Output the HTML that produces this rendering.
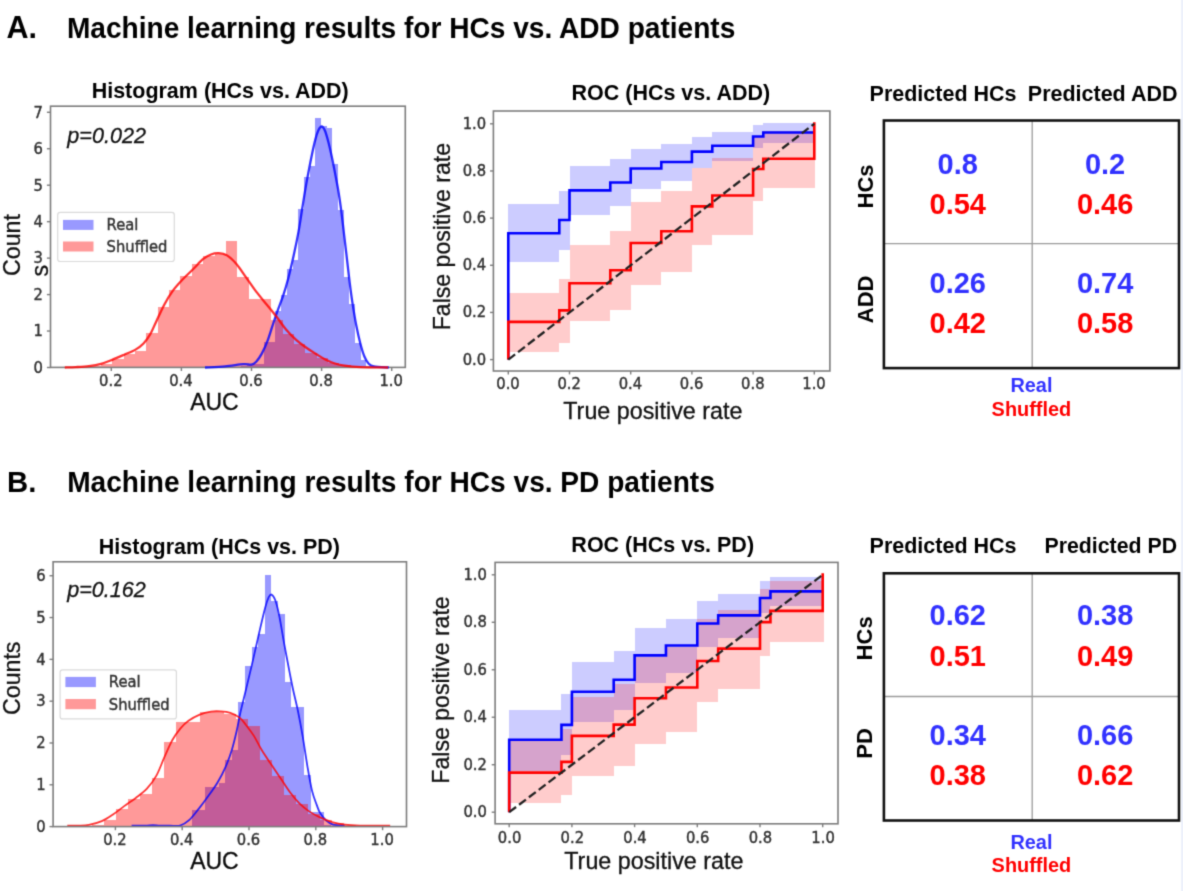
<!DOCTYPE html>
<html lang="en"><head><meta charset="utf-8"><title>Machine learning results</title>
<style>
html,body{margin:0;padding:0;background:#fff;}
body{width:1183px;height:891px;overflow:hidden;}

</style></head><body>
<svg width="1183" height="891" viewBox="0 0 1183 891" style="display:block">
<defs><filter id="soft" x="0" y="0" width="1183" height="891" filterUnits="userSpaceOnUse" color-interpolation-filters="sRGB"><feConvolveMatrix order="3" kernelMatrix="0.02426 0.10723 0.02426 0.10723 0.47405 0.10723 0.02426 0.10723 0.02426" divisor="1" edgeMode="duplicate" preserveAlpha="false"/></filter></defs>
<g filter="url(#soft)">
<rect x="0" y="0" width="1183" height="891" fill="#fff"/>
<g>
<clipPath id="c611"><rect x="50.5" y="106.2" width="354.8" height="261.2"/></clipPath>
<g clip-path="url(#c611)">
<g fill="#0000ff" fill-opacity="0.4" shape-rendering="crispEdges">
<rect x="241.38" y="365.68" width="5.68" height="1.82"/>
<rect x="247.06" y="364.95" width="5.68" height="2.55"/>
<rect x="252.74" y="363.85" width="5.68" height="3.65"/>
<rect x="258.42" y="364.22" width="5.68" height="3.28"/>
<rect x="264.1" y="341.61" width="5.68" height="25.89"/>
<rect x="269.78" y="341.61" width="5.68" height="25.89"/>
<rect x="275.46" y="311.35" width="5.68" height="56.15"/>
<rect x="281.14" y="294.58" width="5.68" height="72.92"/>
<rect x="286.82" y="269.06" width="5.68" height="98.44"/>
<rect x="292.5" y="259.94" width="5.68" height="107.56"/>
<rect x="298.18" y="208.9" width="5.68" height="158.6"/>
<rect x="303.86" y="177.18" width="5.68" height="190.32"/>
<rect x="309.54" y="165.88" width="5.68" height="201.62"/>
<rect x="315.22" y="118.11" width="5.68" height="249.39"/>
<rect x="320.9" y="125.77" width="5.68" height="241.73"/>
<rect x="326.58" y="127.96" width="5.68" height="239.54"/>
<rect x="332.26" y="164.42" width="5.68" height="203.08"/>
<rect x="337.94" y="210.36" width="5.68" height="157.14"/>
<rect x="343.62" y="277.08" width="5.68" height="90.42"/>
<rect x="349.3" y="304.42" width="5.68" height="63.08"/>
<rect x="354.98" y="343.07" width="5.68" height="24.43"/>
<rect x="360.66" y="359.84" width="5.68" height="7.66"/>
<rect x="366.34" y="366.04" width="5.68" height="1.46"/>
</g>
<g fill="#ff0000" fill-opacity="0.4" shape-rendering="crispEdges">
<rect x="89.65" y="366.41" width="11.35" height="1.09"/>
<rect x="101" y="364.29" width="11.35" height="3.21"/>
<rect x="112.35" y="358.75" width="11.35" height="8.75"/>
<rect x="123.7" y="354.19" width="11.35" height="13.31"/>
<rect x="135.05" y="351.46" width="11.35" height="16.04"/>
<rect x="146.4" y="332.97" width="11.35" height="34.53"/>
<rect x="157.75" y="307.34" width="11.35" height="60.16"/>
<rect x="169.1" y="289.84" width="11.35" height="77.66"/>
<rect x="180.45" y="275.62" width="11.35" height="91.88"/>
<rect x="191.8" y="263.95" width="11.35" height="103.55"/>
<rect x="203.15" y="255.93" width="11.35" height="111.57"/>
<rect x="214.5" y="254.47" width="11.35" height="113.03"/>
<rect x="225.85" y="240.98" width="11.35" height="126.52"/>
<rect x="237.2" y="277.08" width="11.35" height="90.42"/>
<rect x="248.55" y="299.32" width="11.35" height="68.18"/>
<rect x="259.9" y="299.32" width="11.35" height="68.18"/>
<rect x="271.25" y="320.1" width="11.35" height="47.4"/>
<rect x="282.6" y="333.59" width="11.35" height="33.91"/>
<rect x="293.95" y="343.8" width="11.35" height="23.7"/>
<rect x="305.3" y="352.55" width="11.35" height="14.95"/>
<rect x="316.65" y="358.02" width="11.35" height="9.48"/>
<rect x="328" y="363.12" width="11.35" height="4.38"/>
<rect x="339.35" y="365.31" width="11.35" height="2.19"/>
<rect x="350.7" y="366.41" width="11.35" height="1.09"/>
<rect x="362.05" y="366.95" width="11.35" height="0.55"/>
</g>
</g>
<rect x="50.5" y="106.2" width="354.8" height="261.2" fill="none" stroke="#7d7d7d" stroke-width="1.6"/>
<path d="M205,367.5C208.33,367.32 218.6,366.95 225,366.41C231.4,365.86 239,364.52 243.4,364.22C247.8,363.91 249.27,365.01 251.4,364.58C253.53,364.16 254.47,363.49 256.2,361.67C257.93,359.84 259.92,357.11 261.8,353.65C263.68,350.18 265.75,345.44 267.5,340.88C269.25,336.33 270.7,331.1 272.3,326.3C273.9,321.5 275.23,317.37 277.1,312.08C278.97,306.79 281.63,300.23 283.5,294.58C285.37,288.93 286.63,284.55 288.3,278.17C289.97,271.79 291.8,264.01 293.5,256.3C295.2,248.58 297.15,239.16 298.5,231.87C299.85,224.58 300.5,219.41 301.6,212.54C302.7,205.68 304.08,196.75 305.1,190.67C306.12,184.59 306.6,181.92 307.7,176.09C308.8,170.25 310.43,161.74 311.7,155.67C312.97,149.59 314.2,143.82 315.3,139.62C316.4,135.43 317.25,132.7 318.3,130.51C319.35,128.32 320.5,126.5 321.6,126.5C322.7,126.5 323.75,127.84 324.9,130.51C326.05,133.18 327.32,137.98 328.5,142.54C329.68,147.1 330.82,152.26 332,157.85C333.18,163.45 334.5,170.31 335.6,176.09C336.7,181.86 337.67,186.78 338.6,192.49C339.53,198.2 340.27,203.19 341.2,210.36C342.13,217.53 343.2,227.07 344.2,235.51C345.2,243.96 346.3,253.32 347.2,261.04C348.1,268.75 348.75,275.01 349.6,281.82C350.45,288.62 351.18,294.58 352.3,301.87C353.42,309.16 354.95,318.58 356.3,325.57C357.65,332.56 359.05,338.64 360.4,343.8C361.75,348.97 363.05,353.28 364.4,356.56C365.75,359.84 366.92,361.85 368.5,363.49C370.08,365.13 370.52,365.74 373.9,366.41C377.28,367.07 386.32,367.32 388.8,367.5" fill="none" stroke="#0000ff" stroke-opacity="0.8" stroke-width="2.3" stroke-linejoin="round" stroke-linecap="butt"/>
<path d="M64.8,367.5C66.67,367.43 71.98,367.31 76,367.06C80.02,366.82 84.73,366.58 88.9,366.04C93.07,365.51 97.12,364.89 101,363.85C104.88,362.82 108.33,361.36 112.2,359.84C116.07,358.32 120.32,356.44 124.2,354.74C128.08,353.04 132.28,351.52 135.5,349.63C138.72,347.75 141.08,345.93 143.5,343.44C145.92,340.94 147.85,338.39 150,334.69C152.15,330.98 154,326.24 156.4,321.2C158.8,316.15 161.73,309.41 164.4,304.42C167.07,299.44 169.45,295.37 172.4,291.3C175.35,287.23 178.62,283.7 182.1,280C185.58,276.29 189.83,272.52 193.3,269.06C196.77,265.59 199.95,261.64 202.9,259.21C205.85,256.78 208.35,255.48 211,254.47C213.65,253.47 216.13,253.05 218.8,253.2C221.47,253.35 224.13,253.65 227,255.39C229.87,257.12 232.73,259.79 236,263.59C239.27,267.39 243.23,273.49 246.6,278.17C249.97,282.85 252.72,287.11 256.2,291.66C259.68,296.22 264.02,301.2 267.5,305.52C270.98,309.83 273.9,313.42 277.1,317.55C280.3,321.68 283.48,326.54 286.7,330.31C289.92,334.08 293.18,337.3 296.4,340.15C299.62,343.01 302.8,345.2 306,347.45C309.2,349.7 312.38,351.64 315.6,353.65C318.82,355.65 322.08,357.84 325.3,359.48C328.52,361.12 331.68,362.46 334.9,363.49C338.12,364.52 340.32,365.07 344.6,365.68C348.88,366.28 353.37,366.83 360.6,367.14C367.83,367.44 383.43,367.44 388,367.5" fill="none" stroke="#ff0000" stroke-opacity="0.8" stroke-width="2.3" stroke-linejoin="round" stroke-linecap="butt"/>
<g stroke="#7d7d7d" stroke-width="1.4">
<line x1="46.9" x2="50.5" y1="367.5" y2="367.5"/>
<line x1="46.9" x2="50.5" y1="331.04" y2="331.04"/>
<line x1="46.9" x2="50.5" y1="294.58" y2="294.58"/>
<line x1="46.9" x2="50.5" y1="258.12" y2="258.12"/>
<line x1="46.9" x2="50.5" y1="221.66" y2="221.66"/>
<line x1="46.9" x2="50.5" y1="185.2" y2="185.2"/>
<line x1="46.9" x2="50.5" y1="148.74" y2="148.74"/>
<line x1="46.9" x2="50.5" y1="112.28" y2="112.28"/>
<line x1="111.3" x2="111.3" y1="367.4" y2="371"/>
<line x1="181.4" x2="181.4" y1="367.4" y2="371"/>
<line x1="251.5" x2="251.5" y1="367.4" y2="371"/>
<line x1="321.6" x2="321.6" y1="367.4" y2="371"/>
<line x1="391.7" x2="391.7" y1="367.4" y2="371"/>
</g>
<g font-family="'DejaVu Sans', 'Liberation Sans', sans-serif" font-size="16.4" fill="#333333" stroke="#333333" stroke-width="0.45">
<text transform="translate(43,372.8) scale(0.9,1)" text-anchor="end">0</text>
<text transform="translate(43,336.34) scale(0.9,1)" text-anchor="end">1</text>
<text transform="translate(43,299.88) scale(0.9,1)" text-anchor="end">2</text>
<text transform="translate(43,263.42) scale(0.9,1)" text-anchor="end">3</text>
<text transform="translate(43,226.96) scale(0.9,1)" text-anchor="end">4</text>
<text transform="translate(43,190.5) scale(0.9,1)" text-anchor="end">5</text>
<text transform="translate(43,154.04) scale(0.9,1)" text-anchor="end">6</text>
<text transform="translate(43,117.58) scale(0.9,1)" text-anchor="end">7</text>
<text transform="translate(110.8,386.2) scale(0.9,1)" text-anchor="middle">0.2</text>
<text transform="translate(180.9,386.2) scale(0.9,1)" text-anchor="middle">0.4</text>
<text transform="translate(251,386.2) scale(0.9,1)" text-anchor="middle">0.6</text>
<text transform="translate(321.1,386.2) scale(0.9,1)" text-anchor="middle">0.8</text>
<text transform="translate(391.2,386.2) scale(0.9,1)" text-anchor="middle">1.0</text>
</g>
<rect x="57.7" y="212.4" width="116.6" height="49.1" rx="2.5" fill="#fff" fill-opacity="0.8" stroke="#dadada" stroke-width="1.2"/>
<rect x="63" y="219.9" width="30.5" height="10" fill="#0000ff" fill-opacity="0.4"/>
<rect x="63" y="241.5" width="30.5" height="10" fill="#ff0000" fill-opacity="0.4"/>
<g font-family="'DejaVu Sans', 'Liberation Sans', sans-serif" font-size="16.4" fill="#333333" stroke="#333333" stroke-width="0.45">
<text transform="translate(106.6,229.8) scale(0.9,1)" text-anchor="start">Real</text>
<text transform="translate(106.6,251.6) scale(0.9,1)" text-anchor="start">Shuffled</text>
</g>
<text transform="translate(67.3,143) scale(1,1.06)" font-family="'Liberation Sans', Arial, Helvetica, sans-serif" font-size="21.6" fill="#111" stroke="#111" stroke-width="0.3" font-style="italic">p=0.022</text>
<text transform="translate(220.2,98) scale(1,1.06)" font-family="'Liberation Sans', Arial, Helvetica, sans-serif" font-size="21.5" fill="#000" font-weight="bold" text-anchor="middle">Histogram (HCs vs. ADD)</text>
<text transform="translate(214.4,410.2) scale(1,1.06)" font-family="'Liberation Sans', Arial, Helvetica, sans-serif" font-size="23.0" fill="#0a0a0a" stroke="#0a0a0a" stroke-width="0.3" text-anchor="middle">AUC</text>
</g>
<g>
<clipPath id="c1092"><rect x="53.1" y="561.8" width="353.4" height="264.8"/></clipPath>
<g clip-path="url(#c1092)">
<g fill="#0000ff" fill-opacity="0.4" shape-rendering="crispEdges">
<rect x="192.2" y="810.46" width="6.6" height="16.14"/>
<rect x="198.8" y="810.46" width="6.6" height="16.14"/>
<rect x="205.4" y="786.92" width="6.6" height="39.68"/>
<rect x="212" y="786.92" width="6.6" height="39.68"/>
<rect x="218.6" y="783.12" width="6.6" height="43.48"/>
<rect x="225.2" y="759.7" width="6.6" height="66.9"/>
<rect x="231.8" y="750.09" width="6.6" height="76.51"/>
<rect x="238.4" y="702.42" width="6.6" height="124.18"/>
<rect x="245" y="665.63" width="6.6" height="160.97"/>
<rect x="251.6" y="647.24" width="6.6" height="179.36"/>
<rect x="258.2" y="634.27" width="6.6" height="192.33"/>
<rect x="264.8" y="574.9" width="6.6" height="251.7"/>
<rect x="271.4" y="601.24" width="6.6" height="225.36"/>
<rect x="278" y="613.79" width="6.6" height="212.81"/>
<rect x="284.6" y="681.52" width="6.6" height="145.08"/>
<rect x="291.2" y="707.02" width="6.6" height="119.58"/>
<rect x="297.8" y="707.02" width="6.6" height="119.58"/>
<rect x="304.4" y="775.17" width="6.6" height="51.43"/>
<rect x="311" y="811.97" width="6.6" height="14.63"/>
<rect x="317.6" y="811.97" width="6.6" height="14.63"/>
<rect x="324.2" y="824.51" width="6.6" height="2.09"/>
</g>
<g fill="#ff0000" fill-opacity="0.4" shape-rendering="crispEdges">
<rect x="79.64" y="825.76" width="12.03" height="0.84"/>
<rect x="91.67" y="824.51" width="12.03" height="2.09"/>
<rect x="103.7" y="820.2" width="12.03" height="6.4"/>
<rect x="115.73" y="809.29" width="12.03" height="17.31"/>
<rect x="127.76" y="799.42" width="12.03" height="27.18"/>
<rect x="139.79" y="793.74" width="12.03" height="32.86"/>
<rect x="151.82" y="777.68" width="12.03" height="48.92"/>
<rect x="163.85" y="741.73" width="12.03" height="84.87"/>
<rect x="175.88" y="722.49" width="12.03" height="104.11"/>
<rect x="187.91" y="722.49" width="12.03" height="104.11"/>
<rect x="199.94" y="711.62" width="12.03" height="114.98"/>
<rect x="211.97" y="711.62" width="12.03" height="114.98"/>
<rect x="224" y="713.71" width="12.03" height="112.89"/>
<rect x="236.03" y="718.73" width="12.03" height="107.87"/>
<rect x="248.06" y="725.84" width="12.03" height="100.76"/>
<rect x="260.09" y="760.12" width="12.03" height="66.48"/>
<rect x="272.12" y="776.01" width="12.03" height="50.59"/>
<rect x="284.15" y="794.82" width="12.03" height="31.78"/>
<rect x="296.18" y="804.19" width="12.03" height="22.41"/>
<rect x="308.21" y="814.48" width="12.03" height="12.12"/>
<rect x="320.24" y="820.33" width="12.03" height="6.27"/>
<rect x="332.27" y="823.26" width="12.03" height="3.34"/>
<rect x="344.3" y="824.93" width="12.03" height="1.67"/>
<rect x="356.33" y="825.76" width="12.03" height="0.84"/>
</g>
<path d="M131.6,825.6C133.83,825.6 141.43,825.67 145,825.6C148.57,825.52 150.5,825.14 153,825.14C155.5,825.14 157.17,825.52 160,825.6C162.83,825.67 166.67,825.6 170,825.6C173.33,825.6 176.77,826.54 180,825.6C183.23,824.65 186.25,822.74 189.4,819.91C192.55,817.08 195.75,812.59 198.9,808.62C202.05,804.65 205.17,800.47 208.3,796.08C211.43,791.69 214.82,787.16 217.7,782.28C220.58,777.4 223.23,772.25 225.6,766.81C227.97,761.38 230.07,755.59 231.9,749.67C233.73,743.75 235.17,737.54 236.6,731.27C238.03,725 239.07,718.45 240.5,712.04C241.93,705.63 243.33,700.54 245.2,692.81C247.07,685.07 249.35,675.74 251.7,665.63C254.05,655.53 257.07,641.8 259.3,632.18C261.53,622.57 263.55,613.72 265.1,607.93C266.65,602.15 267.55,599.71 268.6,597.48C269.65,595.25 270.3,594.14 271.4,594.55C272.5,594.97 273.9,596.51 275.2,599.99C276.5,603.47 277.68,608.07 279.2,615.46C280.72,622.85 282.5,634.48 284.3,644.31C286.1,654.13 288.52,666.75 290,674.41C291.48,682.08 291.88,684.24 293.2,690.3C294.52,696.36 296.33,703.19 297.9,710.79C299.47,718.38 301.03,726.74 302.6,735.87C304.17,745 305.73,756.43 307.3,765.56C308.87,774.69 310.43,784.09 312,790.64C313.57,797.19 315.37,801.17 316.7,804.86C318.03,808.55 318.45,810.22 320,812.8C321.55,815.38 323.83,818.38 326,820.33C328.17,822.28 329.9,823.63 333,824.51C336.1,825.39 342.67,825.42 344.6,825.6" fill="none" stroke="#0000ff" stroke-opacity="0.8" stroke-width="1.8" stroke-linejoin="round" stroke-linecap="butt"/>
<path d="M67.3,825.6C69.08,825.6 74.4,825.71 78,825.6C81.6,825.49 84.93,825.67 88.9,824.93C92.87,824.19 97.78,822.91 101.8,821.16C105.82,819.42 109.27,816.98 113,814.48C116.73,811.97 120.45,808.83 124.2,806.11C127.95,803.4 131.75,801.03 135.5,798.17C139.25,795.31 143.22,792.73 146.7,788.97C150.18,785.21 153.45,780.89 156.4,775.59C159.35,770.3 161.73,763.12 164.4,757.2C167.07,751.27 169.72,744.86 172.4,740.05C175.08,735.25 177.82,731.55 180.5,728.35C183.18,725.14 185.3,723.12 188.5,720.82C191.7,718.52 195.95,716.08 199.7,714.55C203.45,713.02 207.52,712.15 211,711.62C214.48,711.1 217.38,711.2 220.6,711.41C223.82,711.62 227.08,711.8 230.3,712.88C233.52,713.96 237.28,715.87 239.9,717.89C242.52,719.91 243.67,722.01 246,725C248.33,728 251.28,731.69 253.9,735.87C256.52,740.05 258.83,745.35 261.7,750.09C264.57,754.83 267.95,759.6 271.1,764.3C274.25,769.01 277.45,773.64 280.6,778.31C283.75,782.98 286.87,788.13 290,792.32C293.13,796.5 296.27,800.26 299.4,803.4C302.53,806.53 305.37,808.8 308.8,811.13C312.23,813.46 316.13,815.59 320,817.4C323.87,819.21 327.83,820.78 332,822C336.17,823.22 340.33,824.12 345,824.72C349.67,825.32 352.47,825.45 360,825.6C367.53,825.74 385.17,825.6 390.2,825.6" fill="none" stroke="#ff0000" stroke-opacity="0.8" stroke-width="1.8" stroke-linejoin="round" stroke-linecap="butt"/>
</g>
<rect x="53.1" y="561.8" width="353.4" height="264.8" fill="none" stroke="#7d7d7d" stroke-width="1.6"/>
<g stroke="#7d7d7d" stroke-width="1.4">
<line x1="49.5" x2="53.1" y1="826.6" y2="826.6"/>
<line x1="49.5" x2="53.1" y1="784.79" y2="784.79"/>
<line x1="49.5" x2="53.1" y1="742.98" y2="742.98"/>
<line x1="49.5" x2="53.1" y1="701.17" y2="701.17"/>
<line x1="49.5" x2="53.1" y1="659.36" y2="659.36"/>
<line x1="49.5" x2="53.1" y1="617.55" y2="617.55"/>
<line x1="49.5" x2="53.1" y1="575.74" y2="575.74"/>
<line x1="115.4" x2="115.4" y1="826.6" y2="830.2"/>
<line x1="182.2" x2="182.2" y1="826.6" y2="830.2"/>
<line x1="249" x2="249" y1="826.6" y2="830.2"/>
<line x1="315.8" x2="315.8" y1="826.6" y2="830.2"/>
<line x1="382.6" x2="382.6" y1="826.6" y2="830.2"/>
</g>
<g font-family="'DejaVu Sans', 'Liberation Sans', sans-serif" font-size="16.4" fill="#333333" stroke="#333333" stroke-width="0.45">
<text transform="translate(45.6,831.9) scale(0.9,1)" text-anchor="end">0</text>
<text transform="translate(45.6,790.09) scale(0.9,1)" text-anchor="end">1</text>
<text transform="translate(45.6,748.28) scale(0.9,1)" text-anchor="end">2</text>
<text transform="translate(45.6,706.47) scale(0.9,1)" text-anchor="end">3</text>
<text transform="translate(45.6,664.66) scale(0.9,1)" text-anchor="end">4</text>
<text transform="translate(45.6,622.85) scale(0.9,1)" text-anchor="end">5</text>
<text transform="translate(45.6,581.04) scale(0.9,1)" text-anchor="end">6</text>
<text transform="translate(114.9,844.9) scale(0.9,1)" text-anchor="middle">0.2</text>
<text transform="translate(181.7,844.9) scale(0.9,1)" text-anchor="middle">0.4</text>
<text transform="translate(248.5,844.9) scale(0.9,1)" text-anchor="middle">0.6</text>
<text transform="translate(315.3,844.9) scale(0.9,1)" text-anchor="middle">0.8</text>
<text transform="translate(382.1,844.9) scale(0.9,1)" text-anchor="middle">1.0</text>
</g>
<rect x="60.1" y="669.8" width="116.3" height="49.1" rx="2.5" fill="#fff" fill-opacity="0.8" stroke="#dadada" stroke-width="1.2"/>
<rect x="65.4" y="676.9" width="30.5" height="10.2" fill="#0000ff" fill-opacity="0.4"/>
<rect x="65.4" y="699" width="30.5" height="10.2" fill="#ff0000" fill-opacity="0.4"/>
<g font-family="'DejaVu Sans', 'Liberation Sans', sans-serif" font-size="16.4" fill="#333333" stroke="#333333" stroke-width="0.45">
<text transform="translate(108.8,687) scale(0.9,1)" text-anchor="start">Real</text>
<text transform="translate(108.8,709.6) scale(0.9,1)" text-anchor="start">Shuffled</text>
</g>
<text transform="translate(67.2,597.2) scale(1,1.06)" font-family="'Liberation Sans', Arial, Helvetica, sans-serif" font-size="21.6" fill="#111" stroke="#111" stroke-width="0.3" font-style="italic">p=0.162</text>
<text transform="translate(219.4,553.6) scale(1,1.06)" font-family="'Liberation Sans', Arial, Helvetica, sans-serif" font-size="21.5" fill="#000" font-weight="bold" text-anchor="middle">Histogram (HCs vs. PD)</text>
<text transform="translate(214.4,869.2) scale(1,1.06)" font-family="'Liberation Sans', Arial, Helvetica, sans-serif" font-size="23.0" fill="#0a0a0a" stroke="#0a0a0a" stroke-width="0.3" text-anchor="middle">AUC</text>
</g>
<text transform="translate(20.1,276) rotate(-90) scale(1,1.06)" font-family="'Liberation Sans', Arial, Helvetica, sans-serif" font-size="23.2" fill="#111" stroke="#111" stroke-width="0.3">Count</text>
<text transform="translate(48.2,276.6) rotate(-90) scale(1,1.06)" font-family="'Liberation Sans', Arial, Helvetica, sans-serif" font-size="23.2" fill="#111" stroke="#111" stroke-width="0.3">s</text>
<text transform="translate(20.4,715) rotate(-90) scale(1,1.06)" font-family="'Liberation Sans', Arial, Helvetica, sans-serif" font-size="23.2" fill="#111" stroke="#111" stroke-width="0.3">Counts</text>
<g>
<path d="M508.3,204.44H559.3V261.86H508.3ZM559.3,190.53H569.5V250.05H559.3ZM569.5,165.77H610.3V214.82H569.5ZM610.3,159.41H630.7V205.86H610.3ZM630.7,149.03H661.3V188.65H630.7ZM661.3,144.08H691.9V181.34H661.3ZM691.9,136.53H712.3V167.78H691.9ZM712.3,132.05H753.1V161.06H712.3ZM753.1,125.45H763.3V147.85H753.1ZM763.3,123.09H813.38V143.14H763.3Z" fill="#0000ff" fill-opacity="0.2" shape-rendering="crispEdges"/>
<path d="M508.3,293.34H559.3V351.65H508.3ZM559.3,279.07H569.5V342.86H559.3ZM569.5,245H610.3V321.16H569.5ZM610.3,231.09H630.7V310.08H610.3ZM630.7,202.32H661.3V284.97H630.7ZM661.3,191.24H691.9V272.12H661.3ZM691.9,168.13H712.3V245.47H691.9ZM712.3,158.23H753.1V234.86H712.3ZM753.1,135.59H763.3V200.67H753.1ZM763.3,131.35H815.22V187.7H763.3Z" fill="#ff0000" fill-opacity="0.2" shape-rendering="crispEdges"/>
<path d="M508.3,359.6V233.21H559.3V220.01H569.5V190.41H610.3V182.51H630.7V168.51H661.3V162H691.9V151.62H712.3V145.73H753.1V136.53H763.3V132.52H814.3" fill="none" stroke="#0000ff" stroke-width="2.6" stroke-linejoin="miter"/>
<path d="M508.3,359.6V321.87H559.3V310.39H569.5V283.2H610.3V270.23H630.7V242.95H661.3V231.32H691.9V206.33H712.3V195.48H753.1V169.07H763.3V158.7H814.3V122.15" fill="none" stroke="#ff0000" stroke-width="2.6" stroke-linejoin="miter"/>
<line x1="508.3" y1="359.6" x2="814.3" y2="123.8" stroke="#222" stroke-width="2.3" stroke-dasharray="8.6 3.75"/>
<rect x="493.4" y="111" width="336.5" height="260" fill="none" stroke="#7d7d7d" stroke-width="1.6"/>
<g stroke="#7d7d7d" stroke-width="1.4">
<line x1="490" x2="493.4" y1="359.6" y2="359.6"/>
<line x1="508.3" x2="508.3" y1="371" y2="374.4"/>
<line x1="490" x2="493.4" y1="312.44" y2="312.44"/>
<line x1="569.5" x2="569.5" y1="371" y2="374.4"/>
<line x1="490" x2="493.4" y1="265.28" y2="265.28"/>
<line x1="630.7" x2="630.7" y1="371" y2="374.4"/>
<line x1="490" x2="493.4" y1="218.12" y2="218.12"/>
<line x1="691.9" x2="691.9" y1="371" y2="374.4"/>
<line x1="490" x2="493.4" y1="170.96" y2="170.96"/>
<line x1="753.1" x2="753.1" y1="371" y2="374.4"/>
<line x1="490" x2="493.4" y1="123.8" y2="123.8"/>
<line x1="814.3" x2="814.3" y1="371" y2="374.4"/>
</g>
<g font-family="'DejaVu Sans', 'Liberation Sans', sans-serif" font-size="16.4" fill="#333333" stroke="#333333" stroke-width="0.45">
<text transform="translate(486.1,364.5) scale(0.9,1)" text-anchor="end">0.0</text>
<text transform="translate(508,389) scale(0.9,1)" text-anchor="middle">0.0</text>
<text transform="translate(486.1,317.34) scale(0.9,1)" text-anchor="end">0.2</text>
<text transform="translate(569.2,389) scale(0.9,1)" text-anchor="middle">0.2</text>
<text transform="translate(486.1,270.18) scale(0.9,1)" text-anchor="end">0.4</text>
<text transform="translate(630.4,389) scale(0.9,1)" text-anchor="middle">0.4</text>
<text transform="translate(486.1,223.02) scale(0.9,1)" text-anchor="end">0.6</text>
<text transform="translate(691.6,389) scale(0.9,1)" text-anchor="middle">0.6</text>
<text transform="translate(486.1,175.86) scale(0.9,1)" text-anchor="end">0.8</text>
<text transform="translate(752.8,389) scale(0.9,1)" text-anchor="middle">0.8</text>
<text transform="translate(486.1,128.7) scale(0.9,1)" text-anchor="end">1.0</text>
<text transform="translate(814,389) scale(0.9,1)" text-anchor="middle">1.0</text>
</g>
<text transform="translate(670.8,99.7) scale(1,1.06)" font-family="'Liberation Sans', Arial, Helvetica, sans-serif" font-size="21.5" fill="#000" font-weight="bold" text-anchor="middle">ROC (HCs vs. ADD)</text>
<text transform="translate(652.8,418.6) scale(1,1.06)" font-family="'Liberation Sans', Arial, Helvetica, sans-serif" font-size="23.3" fill="#111" stroke="#111" stroke-width="0.3" text-anchor="middle">True positive rate</text>
<text transform="translate(449.8,236.6) rotate(-90) scale(1,1.06)" font-family="'Liberation Sans', Arial, Helvetica, sans-serif" font-size="23.1" fill="#111" stroke="#111" stroke-width="0.3" text-anchor="middle">False positive rate</text>
</g>
<g>
<path d="M509.2,710.36H561.45V770.66H509.2ZM561.45,694.31H571.9V755.22H561.45ZM571.9,661.78H613.7V722.13H571.9ZM613.7,651.48H634.6V709.71H613.7ZM634.6,628.22H665.95V683.41H634.6ZM665.95,618.72H697.3V672.85H665.95ZM697.3,600.68H718.2V647.44H697.3ZM718.2,593.79H760V638.07H718.2ZM760,581.3H770.45V612.78H760ZM770.45,576.56H821.76V606.14H770.45Z" fill="#0000ff" fill-opacity="0.2" shape-rendering="crispEdges"/>
<path d="M509.2,740.98H561.45V803.42H509.2ZM561.45,728.64H571.9V795.11H561.45ZM571.9,696.68H613.7V775.64H571.9ZM613.7,684H634.6V765.67H613.7ZM634.6,656.7H665.95V743.83H634.6ZM665.95,646.73H697.3V732.43H665.95ZM697.3,619.43H718.2V702.38H697.3ZM718.2,609.58H760V689.32H718.2ZM760,589.04H770.45V655.61H760ZM770.45,581.3H823.64V641.65H770.45Z" fill="#ff0000" fill-opacity="0.2" shape-rendering="crispEdges"/>
<path d="M509.2,812.2V739.79H561.45V724.84H571.9V691.7H613.7V679.73H634.6V655.4H665.95V645.55H697.3V623.47H718.2V615.4H760V598.07H770.45V591.42H822.7" fill="none" stroke="#0000ff" stroke-width="2.6" stroke-linejoin="miter"/>
<path d="M509.2,812.2V772.67H561.45V761.87H571.9V735.88H613.7V724.6H634.6V698.25H665.95V687.57H697.3V660.98H718.2V648.63H760V622.14H770.45V610.88H822.7V573.14" fill="none" stroke="#ff0000" stroke-width="2.6" stroke-linejoin="miter"/>
<line x1="509.2" y1="812.2" x2="822.7" y2="574.8" stroke="#222" stroke-width="2.3" stroke-dasharray="8.6 3.75"/>
<rect x="495.1" y="562.4" width="342.9" height="261.4" fill="none" stroke="#7d7d7d" stroke-width="1.6"/>
<g stroke="#7d7d7d" stroke-width="1.4">
<line x1="491.7" x2="495.1" y1="812.2" y2="812.2"/>
<line x1="509.2" x2="509.2" y1="823.8" y2="827.2"/>
<line x1="491.7" x2="495.1" y1="764.72" y2="764.72"/>
<line x1="571.9" x2="571.9" y1="823.8" y2="827.2"/>
<line x1="491.7" x2="495.1" y1="717.24" y2="717.24"/>
<line x1="634.6" x2="634.6" y1="823.8" y2="827.2"/>
<line x1="491.7" x2="495.1" y1="669.76" y2="669.76"/>
<line x1="697.3" x2="697.3" y1="823.8" y2="827.2"/>
<line x1="491.7" x2="495.1" y1="622.28" y2="622.28"/>
<line x1="760" x2="760" y1="823.8" y2="827.2"/>
<line x1="491.7" x2="495.1" y1="574.8" y2="574.8"/>
<line x1="822.7" x2="822.7" y1="823.8" y2="827.2"/>
</g>
<g font-family="'DejaVu Sans', 'Liberation Sans', sans-serif" font-size="16.4" fill="#333333" stroke="#333333" stroke-width="0.45">
<text transform="translate(486.9,817.1) scale(0.9,1)" text-anchor="end">0.0</text>
<text transform="translate(509.6,842.7) scale(0.9,1)" text-anchor="middle">0.0</text>
<text transform="translate(486.9,769.62) scale(0.9,1)" text-anchor="end">0.2</text>
<text transform="translate(572.3,842.7) scale(0.9,1)" text-anchor="middle">0.2</text>
<text transform="translate(486.9,722.14) scale(0.9,1)" text-anchor="end">0.4</text>
<text transform="translate(635,842.7) scale(0.9,1)" text-anchor="middle">0.4</text>
<text transform="translate(486.9,674.66) scale(0.9,1)" text-anchor="end">0.6</text>
<text transform="translate(697.7,842.7) scale(0.9,1)" text-anchor="middle">0.6</text>
<text transform="translate(486.9,627.18) scale(0.9,1)" text-anchor="end">0.8</text>
<text transform="translate(760.4,842.7) scale(0.9,1)" text-anchor="middle">0.8</text>
<text transform="translate(486.9,579.7) scale(0.9,1)" text-anchor="end">1.0</text>
<text transform="translate(823.1,842.7) scale(0.9,1)" text-anchor="middle">1.0</text>
</g>
<text transform="translate(662.7,552.3) scale(1,1.06)" font-family="'Liberation Sans', Arial, Helvetica, sans-serif" font-size="21.5" fill="#000" font-weight="bold" text-anchor="middle">ROC (HCs vs. PD)</text>
<text transform="translate(653.8,868.7) scale(1,1.06)" font-family="'Liberation Sans', Arial, Helvetica, sans-serif" font-size="23.3" fill="#111" stroke="#111" stroke-width="0.3" text-anchor="middle">True positive rate</text>
<text transform="translate(449.3,690) rotate(-90) scale(1,1.06)" font-family="'Liberation Sans', Arial, Helvetica, sans-serif" font-size="23.1" fill="#111" stroke="#111" stroke-width="0.3" text-anchor="middle">False positive rate</text>
</g>
<g>
<line x1="1032.2" x2="1032.2" y1="120.5" y2="368.1" stroke="#9a9a9a" stroke-width="1.3"/>
<line x1="883.9" x2="1179" y1="243.6" y2="243.6" stroke="#9a9a9a" stroke-width="1.3"/>
<rect x="883.9" y="120.5" width="295.1" height="247.6" fill="none" stroke="#111" stroke-width="2.6"/>
<text transform="translate(869.6,100.8) scale(1,1.06)" font-family="'Liberation Sans', Arial, Helvetica, sans-serif" font-size="21.5" fill="#000" font-weight="bold">Predicted HCs</text>
<text transform="translate(1027.8,100.8) scale(1,1.06)" font-family="'Liberation Sans', Arial, Helvetica, sans-serif" font-size="21.5" fill="#000" font-weight="bold">Predicted ADD</text>
<text transform="translate(872.7,186.5) rotate(-90) scale(1,1.0)" font-family="'Liberation Sans', Arial, Helvetica, sans-serif" font-size="22" fill="#000" font-weight="bold" text-anchor="middle">HCs</text>
<text transform="translate(872.7,299.4) rotate(-90) scale(1,1.0)" font-family="'Liberation Sans', Arial, Helvetica, sans-serif" font-size="22" fill="#000" font-weight="bold" text-anchor="middle">ADD</text>
<text transform="translate(957.75,173.6) scale(1,1.03)" font-family="'Liberation Sans', Arial, Helvetica, sans-serif" font-size="29.0" fill="#3232ff" font-weight="bold" text-anchor="middle">0.8</text>
<text transform="translate(957.75,213.6) scale(1,1.03)" font-family="'Liberation Sans', Arial, Helvetica, sans-serif" font-size="29.0" fill="#ff0000" font-weight="bold" text-anchor="middle">0.54</text>
<text transform="translate(1105.1,173.6) scale(1,1.03)" font-family="'Liberation Sans', Arial, Helvetica, sans-serif" font-size="29.0" fill="#3232ff" font-weight="bold" text-anchor="middle">0.2</text>
<text transform="translate(1105.1,213.6) scale(1,1.03)" font-family="'Liberation Sans', Arial, Helvetica, sans-serif" font-size="29.0" fill="#ff0000" font-weight="bold" text-anchor="middle">0.46</text>
<text transform="translate(957.75,292.6) scale(1,1.03)" font-family="'Liberation Sans', Arial, Helvetica, sans-serif" font-size="29.0" fill="#3232ff" font-weight="bold" text-anchor="middle">0.26</text>
<text transform="translate(957.75,333.2) scale(1,1.03)" font-family="'Liberation Sans', Arial, Helvetica, sans-serif" font-size="29.0" fill="#ff0000" font-weight="bold" text-anchor="middle">0.42</text>
<text transform="translate(1105.1,292.6) scale(1,1.03)" font-family="'Liberation Sans', Arial, Helvetica, sans-serif" font-size="29.0" fill="#3232ff" font-weight="bold" text-anchor="middle">0.74</text>
<text transform="translate(1105.1,333.2) scale(1,1.03)" font-family="'Liberation Sans', Arial, Helvetica, sans-serif" font-size="29.0" fill="#ff0000" font-weight="bold" text-anchor="middle">0.58</text>
<text transform="translate(1031.4,391.8) scale(1,1.0)" font-family="'Liberation Sans', Arial, Helvetica, sans-serif" font-size="19.9" fill="#3232ff" font-weight="bold" text-anchor="middle">Real</text>
<text transform="translate(1031.4,415.6) scale(1,1.0)" font-family="'Liberation Sans', Arial, Helvetica, sans-serif" font-size="19.9" fill="#ff0000" font-weight="bold" text-anchor="middle">Shuffled</text>
</g>
<g>
<line x1="1032.2" x2="1032.2" y1="573.3" y2="820.5" stroke="#9a9a9a" stroke-width="1.3"/>
<line x1="883.9" x2="1179" y1="696.5" y2="696.5" stroke="#9a9a9a" stroke-width="1.3"/>
<rect x="883.9" y="573.3" width="295.1" height="247.2" fill="none" stroke="#111" stroke-width="2.6"/>
<text transform="translate(869.6,552.7) scale(1,1.06)" font-family="'Liberation Sans', Arial, Helvetica, sans-serif" font-size="21.5" fill="#000" font-weight="bold">Predicted HCs</text>
<text transform="translate(1044.5,552.7) scale(1,1.06)" font-family="'Liberation Sans', Arial, Helvetica, sans-serif" font-size="21.3" fill="#000" font-weight="bold">Predicted PD</text>
<text transform="translate(872.4,638.4) rotate(-90) scale(1,1.0)" font-family="'Liberation Sans', Arial, Helvetica, sans-serif" font-size="22" fill="#000" font-weight="bold" text-anchor="middle">HCs</text>
<text transform="translate(872.4,743.4) rotate(-90) scale(1,1.0)" font-family="'Liberation Sans', Arial, Helvetica, sans-serif" font-size="22" fill="#000" font-weight="bold" text-anchor="middle">PD</text>
<text transform="translate(957.75,625.3) scale(1,1.03)" font-family="'Liberation Sans', Arial, Helvetica, sans-serif" font-size="29.0" fill="#3232ff" font-weight="bold" text-anchor="middle">0.62</text>
<text transform="translate(957.75,665.6) scale(1,1.03)" font-family="'Liberation Sans', Arial, Helvetica, sans-serif" font-size="29.0" fill="#ff0000" font-weight="bold" text-anchor="middle">0.51</text>
<text transform="translate(1105.1,625.3) scale(1,1.03)" font-family="'Liberation Sans', Arial, Helvetica, sans-serif" font-size="29.0" fill="#3232ff" font-weight="bold" text-anchor="middle">0.38</text>
<text transform="translate(1105.1,665.6) scale(1,1.03)" font-family="'Liberation Sans', Arial, Helvetica, sans-serif" font-size="29.0" fill="#ff0000" font-weight="bold" text-anchor="middle">0.49</text>
<text transform="translate(957.75,744.9) scale(1,1.03)" font-family="'Liberation Sans', Arial, Helvetica, sans-serif" font-size="29.0" fill="#3232ff" font-weight="bold" text-anchor="middle">0.34</text>
<text transform="translate(957.75,785.3) scale(1,1.03)" font-family="'Liberation Sans', Arial, Helvetica, sans-serif" font-size="29.0" fill="#ff0000" font-weight="bold" text-anchor="middle">0.38</text>
<text transform="translate(1105.1,744.9) scale(1,1.03)" font-family="'Liberation Sans', Arial, Helvetica, sans-serif" font-size="29.0" fill="#3232ff" font-weight="bold" text-anchor="middle">0.66</text>
<text transform="translate(1105.1,785.3) scale(1,1.03)" font-family="'Liberation Sans', Arial, Helvetica, sans-serif" font-size="29.0" fill="#ff0000" font-weight="bold" text-anchor="middle">0.62</text>
<text transform="translate(1031.4,848.8) scale(1,1.0)" font-family="'Liberation Sans', Arial, Helvetica, sans-serif" font-size="19.9" fill="#3232ff" font-weight="bold" text-anchor="middle">Real</text>
<text transform="translate(1031.4,872.2) scale(1,1.0)" font-family="'Liberation Sans', Arial, Helvetica, sans-serif" font-size="19.9" fill="#ff0000" font-weight="bold" text-anchor="middle">Shuffled</text>
</g>
<text transform="translate(6.5,38.4) scale(1,1.0)" font-family="'Liberation Sans', Arial, Helvetica, sans-serif" font-size="30.5" fill="#000" font-weight="bold">A.</text>
<text transform="translate(66.9,38.3) scale(1,1.06)" font-family="'Liberation Sans', Arial, Helvetica, sans-serif" font-size="28.1" fill="#000" font-weight="bold">Machine learning results for HCs vs. ADD patients</text>
<text transform="translate(7,492.1) scale(1,1.02)" font-family="'Liberation Sans', Arial, Helvetica, sans-serif" font-size="29.3" fill="#000" font-weight="bold">B.</text>
<text transform="translate(67.2,492.1) scale(1,1.06)" font-family="'Liberation Sans', Arial, Helvetica, sans-serif" font-size="28.1" fill="#000" font-weight="bold">Machine learning results for HCs vs. PD patients</text>
<rect x="1181" y="0" width="2" height="891" fill="#edf1fb"/>
</g>
</svg>
</body></html>
